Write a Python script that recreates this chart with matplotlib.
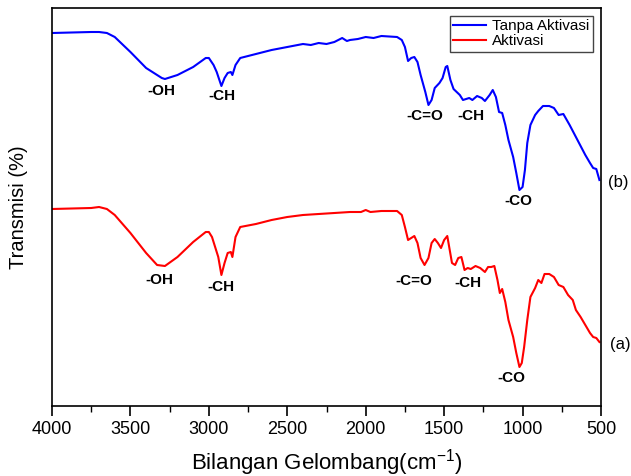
import numpy as np
import matplotlib
matplotlib.use("Agg")
import matplotlib.pyplot as plt
import matplotlib.ticker as mticker

plt.rcParams.update({
    'font.family': ['Liberation Sans', 'DejaVu Sans'],
    'mathtext.fontset': 'custom',
    'mathtext.rm': 'Liberation Sans',
    'mathtext.it': 'Liberation Sans',
    'axes.linewidth': 1.2,
})

# wavenumber (cm-1) and transmission (arbitrary, offset)
wn_b = [4000, 3750, 3700, 3650, 3600, 3500, 3400, 3300, 3280, 3200, 3100, 3020, 3000,
        2970, 2950, 2920, 2900, 2880, 2860, 2850, 2830, 2800, 2700, 2600, 2500, 2400,
        2350, 2300, 2250, 2200, 2150, 2120, 2100, 2050, 2000, 1950, 1900, 1800, 1770,
        1750, 1730, 1710, 1690, 1670, 1650, 1620, 1600, 1580, 1560, 1530, 1510, 1490,
        1480, 1460, 1440, 1400, 1380, 1360, 1340, 1320, 1290, 1260, 1240, 1210, 1190,
        1170, 1150, 1130, 1110, 1090, 1060, 1040, 1020, 1000, 985, 970, 950, 920, 900,
        870, 830, 800, 770, 740, 700, 650, 600, 570, 550, 530, 510]
tr_b = [373, 374, 374, 373, 369, 354, 338, 328, 327, 331, 339, 348, 348,
        341, 334, 320, 328, 333, 334, 331, 341, 348, 352, 356, 359, 362,
        361, 363, 362, 364, 368, 365, 366, 367, 369, 368, 370, 369, 366,
        359, 345, 348, 349, 344, 331, 314, 301, 306, 318, 323, 328, 339,
        340, 326, 317, 311, 306, 307, 308, 306, 310, 308, 305, 311, 316,
        309, 294, 293, 281, 266, 249, 233, 216, 219, 236, 263, 281, 291, 295,
        300, 300, 298, 291, 292, 281, 266, 251, 243, 238, 237, 226]

wn_a = [4000, 3750, 3700, 3650, 3600, 3500, 3400, 3330, 3280, 3200, 3100, 3020, 3000,
        2980, 2960, 2940, 2920, 2900, 2880, 2860, 2850, 2830, 2800, 2700, 2600, 2500,
        2400, 2300, 2200, 2100, 2030, 2000, 1970, 1900, 1800, 1770, 1750, 1730, 1710,
        1690, 1670, 1650, 1625, 1600, 1580, 1560, 1540, 1520, 1500, 1480, 1470, 1450,
        1430, 1410, 1390, 1370, 1350, 1330, 1300, 1270, 1240, 1220, 1200, 1180, 1160,
        1145, 1130, 1110, 1090, 1060, 1040, 1020, 1005, 990, 970, 950, 920, 900, 880,
        860, 830, 800, 770, 740, 710, 680, 660, 630, 600, 570, 550, 530, 510]
tr_a = [197, 198, 199, 197, 191, 173, 153, 141, 140, 149, 164, 174, 174,
        169, 159, 149, 131, 143, 153, 154, 149, 169, 179, 182, 186, 189,
        191, 192, 193, 194, 194, 196, 194, 195, 195, 191, 179, 166, 168,
        170, 163, 148, 141, 148, 163, 167, 163, 158, 166, 170, 161, 143,
        141, 148, 149, 136, 138, 137, 140, 138, 134, 139, 139, 140, 126,
        113, 117, 104, 86, 69, 53, 39, 43, 59, 86, 109, 118, 126, 123,
        132, 132, 129, 121, 119, 111, 106, 96, 89, 81, 73, 69, 68, 64]

# peak labels: (text, wavenumber, transmission)
labels_b = [('-OH', 3303, 315), ('-CH', 2915, 310), ('-C=O', 1623, 290),
            ('-CH', 1328, 290), ('-CO', 1026, 205)]
labels_a = [('-OH', 3315, 126), ('-CH', 2920, 119), ('-C=O', 1692, 125),
            ('-CH', 1346, 123), ('-CO', 1069, 28)]

fig = plt.figure(figsize=(6.31, 4.76), dpi=100)
ax = fig.add_axes([52 / 631, 1 - 406 / 476, 549 / 631, 398.5 / 476])

ax.plot(wn_b, tr_b, color='#0000ff', lw=1.5, label='Tanpa Aktivasi')
ax.plot(wn_a, tr_a, color='#ff0000', lw=1.5, label='Aktivasi')

for txt, x, y in labels_b + labels_a:
    ax.text(x, y, txt, ha='center', va='center', fontsize=11, fontweight='bold')

ax.text(1.012, 224, '(b)', transform=ax.get_yaxis_transform(), ha='left', va='center', fontsize=12)
ax.text(1.016, 61, '(a)', transform=ax.get_yaxis_transform(), ha='left', va='center', fontsize=12)

ax.set_xlim(4000, 500)
ax.set_ylim(0, 398.5)
ax.xaxis.set_major_locator(mticker.MultipleLocator(500))
ax.xaxis.set_minor_locator(mticker.MultipleLocator(250))
ax.tick_params(axis='x', which='major', direction='out', length=7, width=1.2, labelsize=13, pad=4)
ax.tick_params(axis='x', which='minor', direction='out', length=4, width=1.0)
ax.set_yticks([])

ax.set_xlabel(r'Bilangan Gelombang(cm$^{\mathregular{-1}}$)', fontsize=16, labelpad=6)
ax.set_ylabel('Transmisi (%)', fontsize=14.5, labelpad=17)

leg = ax.legend(loc='upper right', bbox_to_anchor=(0.985, 0.979), fontsize=11,
                fancybox=False, frameon=True, edgecolor='#444444', framealpha=1,
                borderpad=0.2, labelspacing=0.1, handlelength=2.2, handletextpad=0.4,
                borderaxespad=0)
leg.get_frame().set_linewidth(1.0)

fig.savefig('out.png', dpi=100)
